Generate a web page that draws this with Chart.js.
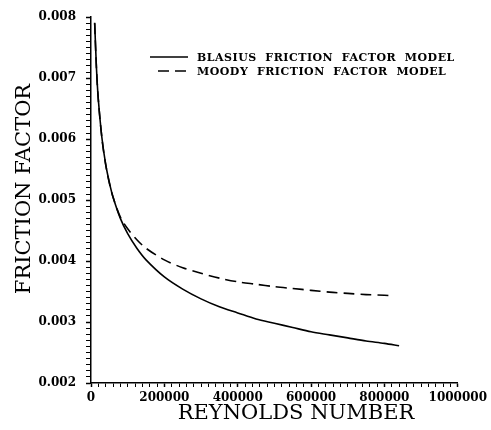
<!DOCTYPE html>
<html>
<head>
<meta charset="utf-8">
<script src="https://cdn.jsdelivr.net/npm/chart.js@4"></script>
<style>
  html, body { margin: 0; padding: 0; background: #fff; }
  #wrap { width: 491px; height: 430px; position: relative; }
</style>
</head>
<body>
<div id="wrap"><canvas id="frictionChart"></canvas></div>
<script>
// Reynolds numbers
const reBlasius = [10000, 15000, 20000, 30000, 40000, 50000, 60000, 80000, 100000, 125000, 150000, 200000, 250000, 300000, 350000, 400000, 450000, 500000, 550000, 600000, 650000, 700000, 750000, 800000, 840000];
const fBlasius = [0.00791, 0.00715, 0.00665, 0.00601, 0.00559, 0.00529, 0.00505, 0.00470, 0.00445, 0.00421, 0.00402, 0.00374, 0.00354, 0.00338, 0.00325, 0.00315, 0.00305, 0.00298, 0.00291, 0.00284, 0.00279, 0.00274, 0.00269, 0.00265, 0.00261];

const reMoody = [10000, 15000, 20000, 30000, 40000, 50000, 60000, 80000, 100000, 125000, 150000, 200000, 250000, 300000, 350000, 400000, 450000, 500000, 550000, 600000, 650000, 700000, 750000, 800000, 820000];
const fMoody = [0.00790, 0.00714, 0.00664, 0.00600, 0.00558, 0.00528, 0.00505, 0.00472, 0.00453, 0.00435, 0.00421, 0.00402, 0.00389, 0.00380, 0.00372, 0.00366, 0.00362, 0.00358, 0.00355, 0.00352, 0.00349, 0.00347, 0.00345, 0.00344, 0.00343];

const seriesNames = ['BLASIUS  FRICTION  FACTOR  MODEL', 'MOODY  FRICTION  FACTOR  MODEL'];
const xTitle = 'REYNOLDS NUMBER';
const yTitle = 'FRICTION FACTOR';

function toPoints(xs, ys) {
    return xs.map((x, i) => ({ x: x, y: ys[i] }));
}

// legend + axis titles, drawn at fixed spots like the original plot
const annotatePlugin = {
    id: 'annotate',
    afterDraw(chart) {
        const ctx = chart.ctx;
        ctx.save();
        ctx.fillStyle = '#000';
        ctx.strokeStyle = '#000';

        // legend
        ctx.font = 'bold 11px "DejaVu Serif"';
        ctx.letterSpacing = '0.5px';
        ctx.textBaseline = 'middle';
        ctx.textAlign = 'left';
        chart.data.datasets.forEach((ds, i) => {
            const y = 57 + i * 14;
            ctx.lineWidth = ds.borderWidth;
            ctx.setLineDash(ds.borderDash || []);
            ctx.beginPath();
            ctx.moveTo(i === 0 ? 150 : 158, y);
            ctx.lineTo(188, y);
            ctx.stroke();
            ctx.setLineDash([]);
            ctx.fillText(ds.label, 197, y + 1);
        });
        ctx.letterSpacing = '0px';

        // axis titles
        ctx.font = '21px "DejaVu Serif"';
        ctx.textAlign = 'center';
        ctx.fillText(xTitle, 296, 414);
        ctx.translate(25, 189);
        ctx.rotate(-Math.PI / 2);
        ctx.fillText(yTitle, 0, 0);
        ctx.restore();
    }
};

const isMajor = (v, step) => Math.abs(v / step - Math.round(v / step)) < 1e-6;

const ctx = document.getElementById('frictionChart');
const config = {
    type: 'line',
    data: {
        datasets: [{
            label: seriesNames[0],
            data: toPoints(reBlasius, fBlasius),
            borderColor: '#000',
            borderWidth: 1.6,
            pointRadius: 0,
            tension: 0.3
        }, {
            label: seriesNames[1],
            data: toPoints(reMoody, fMoody),
            borderColor: '#000',
            borderWidth: 1.6,
            borderDash: [11, 6],
            pointRadius: 0,
            tension: 0.3
        }]
    },
    options: {
        responsive: true,
        maintainAspectRatio: false,
        animation: false,
        layout: {
            padding: { top: 15, right: 33, left: 0, bottom: 0 }
        },
        plugins: {
            legend: { display: false },
            tooltip: { enabled: false }
        },
        scales: {
            x: {
                type: 'linear',
                min: 0,
                max: 1000000,
                afterFit: (scale) => { scale.height = 47; },
                border: { display: true, color: '#000', width: 1.5 },
                grid: {
                    drawOnChartArea: false,
                    drawTicks: true,
                    tickLength: 4,
                    tickColor: '#000',
                    tickWidth: (c) => isMajor(c.tick.value, 200000) ? 1.5 : 1
                },
                ticks: {
                    stepSize: 20000,
                    autoSkip: false,
                    maxRotation: 0,
                    padding: 4,
                    color: '#000',
                    font: { family: '"DejaVu Serif"', size: 12, weight: 'bold' },
                    callback: (v) => isMajor(v, 200000) ? String(v) : ''
                }
            },
            y: {
                type: 'linear',
                min: 0.002,
                max: 0.008,
                afterFit: (scale) => { scale.width = 91; },
                border: { display: true, color: '#000', width: 1.5 },
                grid: {
                    drawOnChartArea: false,
                    drawTicks: true,
                    tickLength: 5,
                    tickColor: '#000',
                    tickWidth: (c) => isMajor(c.tick.value, 0.001) ? 1.5 : 1
                },
                ticks: {
                    stepSize: 0.0001,
                    autoSkip: false,
                    padding: 10,
                    color: '#000',
                    font: { family: '"DejaVu Serif"', size: 12, weight: 'bold' },
                    callback: (v) => isMajor(v, 0.001) ? v.toFixed(3) : ''
                }
            }
        }
    },
    plugins: [annotatePlugin]
};
const myChart = new Chart(ctx, config);
</script>
</body>
</html>
